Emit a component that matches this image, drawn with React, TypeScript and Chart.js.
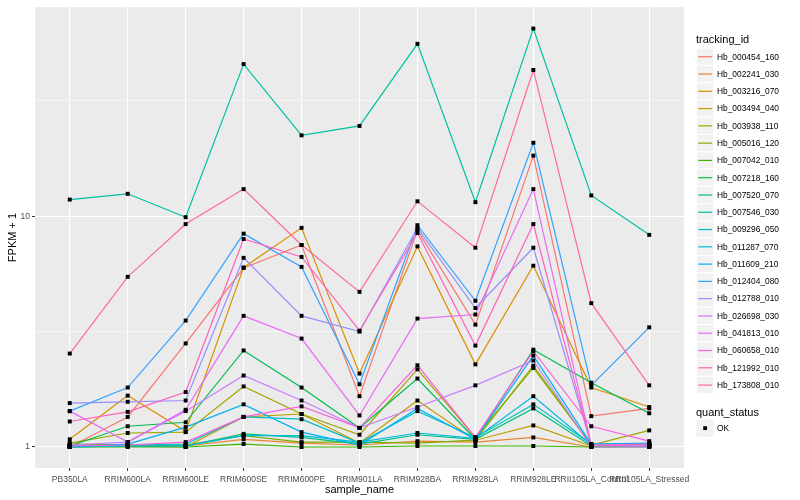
import React, { useEffect, useRef } from "react";
import { Chart, registerables } from "chart.js";

Chart.register(...registerables);

const FONT = '"Liberation Sans", Arial, Helvetica, sans-serif';

// ---- data ----
const categories = [
  "PB350LA",
  "RRIM600LA",
  "RRIM600LE",
  "RRIM600SE",
  "RRIM600PE",
  "RRIM901LA",
  "RRIM928BA",
  "RRIM928LA",
  "RRIM928LE",
  "RRII105LA_Control",
  "RRII105LA_Stressed",
];

const trackingIds = [
  "Hb_000454_160",
  "Hb_002241_030",
  "Hb_003216_070",
  "Hb_003494_040",
  "Hb_003938_110",
  "Hb_005016_120",
  "Hb_007042_010",
  "Hb_007218_160",
  "Hb_007520_070",
  "Hb_007546_030",
  "Hb_009296_050",
  "Hb_011287_070",
  "Hb_011609_210",
  "Hb_012404_080",
  "Hb_012788_010",
  "Hb_026698_030",
  "Hb_041813_010",
  "Hb_060658_010",
  "Hb_121992_010",
  "Hb_173808_010",
];

const seriesColors = [
  "#F8766D", "#EA8331", "#D89000", "#C09B00", "#A3A500",
  "#7CAE00", "#39B600", "#00BB4E", "#00BF7D", "#00C1A3",
  "#00BFC4", "#00BAE0", "#00B0F6", "#35A2FF", "#9590FF",
  "#C77CFF", "#E76BF3", "#FA62DB", "#FF62BC", "#FF6C91",
];

// FPKM + 1 per sample
const hb000454_160 = [1.0, 1.35, 2.81, 5.96, 7.5, 1.66, 8.7, 3.39, 18.3, 1.36, 1.47];
const hb002241_030 = [1.01, 1.02, 1.01, 1.08, 1.04, 1.02, 1.06, 1.05, 1.1, 1.0, 1.01];
const hb003216_070 = [1.08, 1.67, 1.17, 6.0, 8.9, 2.08, 7.4, 2.28, 6.1, 1.81, 1.49];
const hb003494_040 = [1.02, 1.01, 1.0, 1.35, 1.39, 1.04, 1.59, 1.07, 1.24, 1.01, 1.03];
const hb003938_110 = [1.04, 1.15, 1.16, 1.83, 1.39, 1.13, 2.17, 1.1, 2.2, 1.02, 1.18];
const hb005016_120 = [1.03, 1.02, 1.02, 1.12, 1.05, 1.05, 1.04, 1.07, 2.25, 1.02, 1.02];
const hb007042_010 = [1.0, 1.0, 1.0, 1.03, 1.0, 1.0, 1.01, 1.01, 1.01, 1.0, 1.0];
const hb007218_160 = [1.01, 1.23, 1.28, 2.62, 1.81, 1.21, 1.98, 1.08, 2.64, 1.9, 1.4];
const hb007520_070 = [1.0, 1.01, 1.01, 1.14, 1.1, 1.03, 1.13, 1.08, 1.47, 1.01, 1.01];
const hb007546_030 = [11.8, 12.5, 9.9, 45.6, 22.4, 24.6, 55.8, 11.5, 65.0, 12.3, 8.3];
const hb009296_050 = [1.01, 1.02, 1.03, 1.35, 1.32, 1.04, 1.43, 1.1, 1.53, 1.03, 1.03];
const hb011287_070 = [1.0, 1.01, 1.01, 1.12, 1.12, 1.05, 1.15, 1.09, 1.66, 1.02, 1.02];
const hb011609_210 = [1.0, 1.03, 1.22, 1.53, 1.16, 1.02, 1.47, 1.08, 2.49, 1.03, 1.04];
const hb012404_080 = [1.43, 1.81, 3.53, 8.4, 6.03, 1.87, 9.14, 4.3, 20.8, 1.85, 3.3];
const hb012788_010 = [1.55, 1.57, 1.59, 6.6, 3.7, 3.16, 8.87, 4.0, 7.3, 1.02, 1.01];
const hb026698_030 = [1.02, 1.05, 1.43, 2.04, 1.59, 1.21, 1.49, 1.85, 2.37, 1.0, 1.0];
const hb041813_010 = [1.43, 1.05, 1.45, 3.7, 2.95, 1.37, 3.6, 3.75, 13.1, 1.02, 1.01];
const hb060658_010 = [1.01, 1.02, 1.05, 1.35, 1.5, 1.21, 2.26, 1.1, 2.6, 1.23, 1.06];
const hb121992_010 = [1.29, 1.42, 1.73, 7.96, 6.66, 3.19, 8.45, 2.75, 9.24, 1.02, 1.03];
const hb173808_010 = [2.54, 5.46, 9.24, 13.1, 7.5, 4.7, 11.6, 7.3, 43.0, 4.2, 1.85];

const seriesValues = [
  hb000454_160, hb002241_030, hb003216_070, hb003494_040, hb003938_110,
  hb005016_120, hb007042_010, hb007218_160, hb007520_070, hb007546_030,
  hb009296_050, hb011287_070, hb011609_210, hb012404_080, hb012788_010,
  hb026698_030, hb041813_010, hb060658_010, hb121992_010, hb173808_010,
];

const quantStatus = ["OK"];

const yBreaks = [1, Math.sqrt(10), 10, Math.sqrt(1000)];
const yMajorLabels: Record<string, string> = { "1": "1", "10": "10" };

const isMajor = (v: number) => Math.abs(v - 1) < 1e-9 || Math.abs(v - 10) < 1e-9;

const panelPlugin = {
  id: "panelBg",
  beforeDraw(chart: any) {
    const { ctx, chartArea } = chart;
    ctx.save();
    ctx.fillStyle = "#EBEBEB";
    ctx.fillRect(chartArea.left, chartArea.top, chartArea.right - chartArea.left, chartArea.bottom - chartArea.top);
    ctx.restore();
  },
};

const decorPlugin = {
  id: "decor",
  afterDraw(chart: any) {
    const { ctx, chartArea } = chart;
    ctx.save();
    // axis titles
    ctx.fillStyle = "#000000";
    ctx.font = `11px ${FONT}`;
    ctx.textAlign = "center";
    ctx.textBaseline = "middle";
    ctx.fillText("sample_name", (chartArea.left + chartArea.right) / 2, 490);
    ctx.save();
    ctx.translate(12.5, (chartArea.top + chartArea.bottom) / 2);
    ctx.rotate(-Math.PI / 2);
    ctx.fillText("FPKM + 1", 0, 0);
    ctx.restore();

    // legend: tracking_id
    const keyX = 696.5;
    const keyS = 17.28;
    const top0 = 48.1;
    ctx.textAlign = "left";
    ctx.font = `11px ${FONT}`;
    ctx.fillText("tracking_id", 696, 39.5);
    ctx.font = `8.4px ${FONT}`;
    trackingIds.forEach((id, i) => {
      const y = top0 + i * keyS;
      ctx.fillStyle = "#F2F2F2";
      ctx.fillRect(keyX, y, keyS, keyS);
      ctx.strokeStyle = "#FFFFFF";
      ctx.lineWidth = 1;
      ctx.strokeRect(keyX, y, keyS, keyS);
      ctx.strokeStyle = seriesColors[i];
      ctx.lineWidth = 1.2;
      ctx.beginPath();
      ctx.moveTo(keyX + 1.7, y + keyS / 2);
      ctx.lineTo(keyX + keyS - 1.7, y + keyS / 2);
      ctx.stroke();
      ctx.fillStyle = "#000000";
      ctx.fillText(id, 717, y + keyS / 2 + 0.5);
    });

    // legend: quant_status
    ctx.font = `11px ${FONT}`;
    ctx.fillText("quant_status", 696, 412.7);
    ctx.font = `8.4px ${FONT}`;
    quantStatus.forEach((s, i) => {
      const y = 419.5 + i * keyS;
      ctx.fillStyle = "#F2F2F2";
      ctx.fillRect(keyX, y, keyS, keyS);
      ctx.fillStyle = "#000000";
      ctx.fillRect(keyX + keyS / 2 - 1.9, y + keyS / 2 - 1.9, 3.8, 3.8);
      ctx.fillText(s, 717, y + keyS / 2 + 0.5);
    });
    ctx.restore();
  },
};

export default function App() {
  const ref = useRef<HTMLCanvasElement>(null);

  useEffect(() => {
    document.body.style.margin = "0";
    const canvas = ref.current;
    if (!canvas) return;

    const lineSets = seriesValues.map((vals, i) => ({
      type: "line" as const,
      label: trackingIds[i],
      data: vals.map((v, j) => ({ x: j, y: v })),
      borderColor: seriesColors[i],
      backgroundColor: seriesColors[i],
      borderWidth: 1.2,
      pointRadius: 0,
      pointHoverRadius: 0,
      tension: 0,
      fill: false,
      order: 100 - i,
    }));

    const pointSets = seriesValues.map((vals, i) => ({
      type: "line" as const,
      label: trackingIds[i] + " " + quantStatus[0],
      data: vals.map((v, j) => ({ x: j, y: v })),
      showLine: false,
      pointStyle: "rect" as const,
      pointRadius: 2.8,
      pointBackgroundColor: "#000000",
      pointBorderColor: "#000000",
      pointBorderWidth: 0,
      borderColor: "#000000",
      backgroundColor: "#000000",
      order: -1,
    }));

    const chart = new Chart(canvas, {
      type: "line",
      data: { datasets: [...lineSets, ...pointSets] as any },
      options: {
        responsive: false,
        animation: false,
        devicePixelRatio: 1,
        layout: { padding: { top: 5, right: 116, left: 0, bottom: 0 } },
        plugins: {
          legend: { display: false },
          tooltip: { enabled: false },
        },
        scales: {
          x: {
            type: "linear",
            min: -0.6,
            max: 10.6,
            afterBuildTicks: (axis: any) => {
              axis.ticks = categories.map((_, i) => ({ value: i }));
            },
            afterFit: (axis: any) => {
              axis.height = 32;
            },
            grid: {
              color: "#FFFFFF",
              lineWidth: 1.1,
              tickLength: 3,
              tickColor: "#333333",
              tickWidth: 1,
            },
            border: { display: false },
            ticks: {
              autoSkip: false,
              maxRotation: 0,
              minRotation: 0,
              padding: 3.5,
              color: "#4D4D4D",
              font: { family: FONT, size: 8.5 },
              callback: (v: any) => categories[Math.round(Number(v))] ?? "",
            },
          },
          y: {
            type: "logarithmic",
            min: 0.811,
            max: 80.5,
            afterBuildTicks: (axis: any) => {
              axis.ticks = yBreaks.map((v) => ({ value: v }));
            },
            afterFit: (axis: any) => {
              axis.width = 35;
            },
            grid: {
              color: "#FFFFFF",
              lineWidth: (c: any) => (c.tick && isMajor(c.tick.value) ? 1.1 : 0.55),
              tickLength: 3,
              tickColor: (c: any) => (c.tick && isMajor(c.tick.value) ? "#333333" : "rgba(0,0,0,0)"),
              tickWidth: 1,
            },
            border: { display: false },
            ticks: {
              padding: 2,
              color: "#4D4D4D",
              font: { family: FONT, size: 8.5 },
              autoSkip: false,
              callback: (v: any) => {
                const n = Number(v);
                if (isMajor(n)) return yMajorLabels[String(Math.round(n))];
                return "";
              },
            },
          },
        },
      } as any,
      plugins: [panelPlugin, decorPlugin],
    });

    return () => chart.destroy();
  }, []);

  return (
    <div style={{ position: "absolute", left: 0, top: 0, width: 800, height: 500 }}>
      <canvas ref={ref} width={800} height={500} style={{ width: 800, height: 500, display: "block" }} />
    </div>
  );
}
